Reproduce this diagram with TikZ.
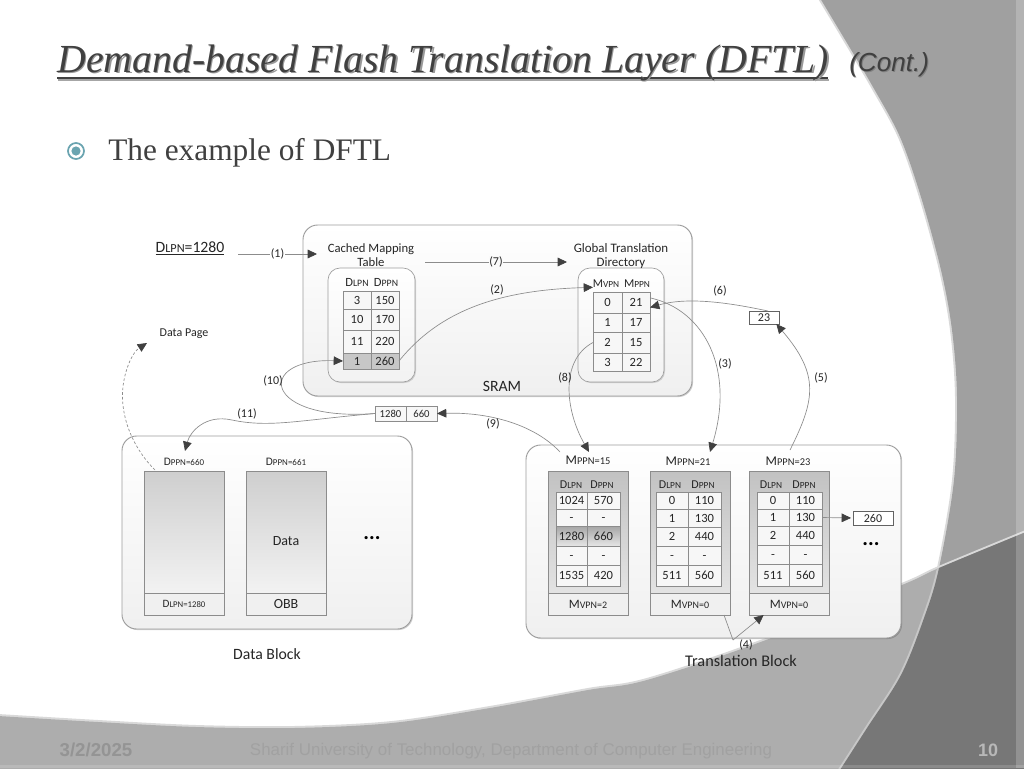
\documentclass[tikz,border=0pt]{standalone}
\usepackage{fontspec}
\setmainfont{Carlito}
\newfontfamily\seriff{Liberation Serif}
\newfontfamily\sansf{Liberation Sans}
\newfontfamily\smf[Scale=0.78]{Carlito}
\usetikzlibrary{arrows.meta,shadows,calc}
\definecolor{bandc}{HTML}{A0A0A0}
\definecolor{swoopc}{HTML}{ADADAD}
\definecolor{darkc}{HTML}{777777}
\definecolor{linec}{HTML}{8C8C8C}
\definecolor{tipc}{HTML}{404040}
\definecolor{inkc}{HTML}{262626}
\definecolor{teal}{HTML}{6AA4B0}
\newcommand\fs[1]{\fontsize{#1}{#1}\selectfont}
\newcommand\sm[2]{#1{\smf #2}}
% \rb[style]{name}{x0}{y0}{x1}{y1}{text}
\newcommand\rb[7][]{%
  \pgfmathsetmacro\rbcx{(#3+#5)/2}\pgfmathsetmacro\rbcy{(#4+#6)/2}%
  \pgfmathsetmacro\rbw{abs(#5-#3)*0.75}\pgfmathsetmacro\rbh{abs(#6-#4)*0.75}%
  \node[boxbase,minimum width=\rbw pt,minimum height=\rbh pt,#1] (#2) at (\rbcx,\rbcy) {#7};}
% \trow{prefix}{row no}{x0}{xm}{x1}{y0}{y1}{a}{b}
\newcommand\trow[9]{%
  \rb[cellb,tsize]{#1#2a}{#3}{#6}{#4}{#7}{#8}%
  \rb[cellb,tsize]{#1#2b}{#4}{#6}{#5}{#7}{#9}}
\tikzset{
  boxbase/.style={inner sep=0pt,outer sep=0pt,align=center,text=inkc},
  tsize/.style={font=\fs{9.4}},
  cellb/.style={draw=linec,line width=.5pt,fill=white!97!black,text height=1.4ex,text depth=0pt},
  container/.style={draw=linec!85,line width=.7pt,rounded corners=11pt,top color=white,bottom color=black!6,
     drop shadow={shadow xshift=.8pt,shadow yshift=-.8pt,fill=black,opacity=.18}},
  innerbox/.style={draw=linec!85,line width=.5pt,rounded corners=9pt,top color=white,bottom color=black!5,
     drop shadow={shadow xshift=.8pt,shadow yshift=-.8pt,fill=black,opacity=.15}},
  pagebox/.style={draw=linec,line width=.5pt,top color=black!19,bottom color=black!5,
     drop shadow={shadow xshift=.8pt,shadow yshift=-.8pt,fill=black,opacity=.2}},
  footbox/.style={draw=linec,line width=.5pt,fill=black!6,font=\fs{9},
     drop shadow={shadow xshift=.8pt,shadow yshift=-.8pt,fill=black,opacity=.2}},
  plainbox/.style={draw=linec!70!black,line width=.6pt,fill=white,font=\fs{9}},
  txt/.style={inner sep=0pt,text=inkc,font=\fs{9.5},align=center},
  lab/.style={inner sep=0.6pt,text=inkc,font=\fs{9}},
  conn/.style={draw=linec,line width=.5pt,-{Triangle[length=7pt,width=6.5pt,color=tipc]}},
  conndash/.style={conn,dashed,dash pattern=on 2pt off 1.5pt},
  plaincurve/.style={draw=linec,line width=.5pt},
  dots/.style={inner sep=0pt,text=black,font=\bfseries\fs{16}},
}
\def\bandedge{plot[smooth,tension=.55] coordinates {(820,-2)(847,43)(873,87)(900,137)(921,197)(941,270)(952,330)(957,397)(954,480)(939,568)(924,618)(901,675)(867,728)(840,770)}}
\def\swoopedge{plot[smooth,tension=.55] coordinates {(-2,716)(98,722)(196,727)(294,728)(392,723)(490,708)(588,690)(647,680)(766,640)(902,585)(939,568)(1026,532)}}
\begin{document}
\begin{tikzpicture}[x=0.75pt,y=-0.75pt]
\useasboundingbox (0,0) rectangle (1024,768);
% ---------- slide background
\fill[white] (0,0) rectangle (1024,768);
\draw[black!15,line width=3pt] \bandedge;
\fill[bandc] \bandedge -- (1026,770) -- (1026,-2) -- cycle;
\draw[black!15,line width=3pt] \swoopedge;
\fill[swoopc] \swoopedge -- (1026,770) -- (-2,770) -- cycle;
\begin{scope}
  \clip \swoopedge -- (1026,770) -- (-2,770) -- cycle;
  \draw[black!22,line width=3pt] \bandedge;
  \fill[darkc] \bandedge -- (1026,770) -- (1026,-2) -- cycle;
\end{scope}
\fill[white,opacity=.2] (1016,0) rectangle (1024,768);
\fill[white,opacity=.15] (0,765) rectangle (1024,768);
% ---------- title
\fill[black!35] (58,78.5) rectangle (829,81);
\fill[tipc] (57,76.5) rectangle (828,79);
\node[anchor=base west,inner sep=0pt,text=black!40,font=\seriff\itshape\fs{29.85}] (titleshadow) at (58.5,73.5) {Demand-based Flash Translation Layer (DFTL)};
\node[anchor=base west,inner sep=0pt,text=tipc,font=\seriff\itshape\fs{29.85}] (title) at (57,72) {Demand-based Flash Translation Layer (DFTL)};
\node[anchor=base west,inner sep=0pt,text=black!50,font=\sansf\itshape\fs{19.6}] (contshadow) at (850,72.5) {(Cont.)};
\node[anchor=base west,inner sep=0pt,text=tipc,font=\sansf\itshape\fs{19.6}] (cont) at (849,71) {(Cont.)};
% ---------- bullet
\draw[teal,line width=1.3pt,fill=white] (76,151) circle[radius=8];
\fill[teal] (76,151) circle[radius=4.6];
\node[anchor=base west,inner sep=0pt,text=tipc,font=\seriff\fs{23.5}] (body) at (108,160) {The example of DFTL};
% ---------- footer
\node[inner sep=0pt,text=black!42,font=\sansf\bfseries\fs{14}] (date) at (96,750) {3/2/2025};
\node[inner sep=0pt,text=black!37,font=\sansf\fs{12.7}] (foot) at (511,751) {Sharif University of Technology, Department of Computer Engineering};
\node[inner sep=0pt,text=black!28,font=\sansf\bfseries\fs{13.5}] (pg) at (988,750) {10};
% ---------- containers
\rb[container]{sram}{303}{225}{692}{396}{}
\rb[innerbox]{cmtbox}{328}{268}{415}{382}{}
\rb[innerbox]{gtdbox}{578}{268}{664}{382}{}
\rb[container]{datablk}{122}{436}{412}{629}{}
\rb[container]{tblk}{526}{445}{901}{638}{}
% ---------- SRAM
\node[txt] (cmtt) at (371,255) {Cached Mapping\\[1pt]Table};
\node[txt,font=\fs{9.7}] (gtdt) at (621,256) {Global Translation\\[1pt]Directory};
\node[txt,font=\fs{11.8}] (sramt) at (502,386.5) {SRAM};
\node[lab,font=\fs{9.4}] (hc1) at (357,282) {\sm{D}{LPN}};
\node[lab,font=\fs{9.4}] (hc2) at (386,282) {\sm{D}{PPN}};
\node[lab,font=\fs{9}] (hg1) at (606,283.5) {\sm{M}{VPN}};
\node[lab,font=\fs{9}] (hg2) at (637,283.5) {\sm{M}{PPN}};
\begin{scope}[every node/.append style={drop shadow={shadow xshift=.6pt,shadow yshift=-.6pt,fill=black,opacity=.2}}]
\trow{c}{1}{343}{371}{399}{291}{309}{3}{150}
\trow{c}{2}{343}{371}{399}{309}{330}{10}{170}
\trow{c}{3}{343}{371}{399}{330}{353}{11}{220}
\end{scope}
\rb[cellb,tsize,fill=black!22,drop shadow={shadow xshift=.6pt,shadow yshift=-.6pt,fill=black,opacity=.3}]{c4a}{343}{353}{371}{369}{1}
\rb[cellb,tsize,fill=black!22,drop shadow={shadow xshift=.6pt,shadow yshift=-.6pt,fill=black,opacity=.3}]{c4b}{371}{353}{399}{369}{260}
\trow{g}{1}{593}{622}{650}{292}{313}{0}{21}
\trow{g}{2}{593}{622}{650}{313}{332}{1}{17}
\trow{g}{3}{593}{622}{650}{332}{353}{2}{15}
\trow{g}{4}{593}{622}{650}{353}{371}{3}{22}
% ---------- free labels and small boxes
\node[txt,font=\fs{11.8}] (lpn) at (190,248.5) {\underline{\sm{D}{LPN}=1280}};
\node[txt,font=\fs{9}] (dpage) at (184,334) {Data Page};
\coordinate (cmtin) at (317,254);
\coordinate (lpnout) at (238,254);
\coordinate (c7a) at (425,262);
\coordinate (c7b) at (567,262);
\rb[plainbox]{b23}{749}{311}{779}{324}{23}
\rb[cellb,font=\fs{8}]{m1}{375}{406}{406}{421}{1280}
\rb[cellb,font=\fs{8}]{m2}{406}{406}{437}{421}{660}
% ---------- data block
\rb[pagebox]{p1}{144}{471}{224}{593}{}
\rb[pagebox]{p2}{246}{471}{326}{593}{}
\node[txt,font=\fs{10.5}] (datat) at (286,541) {Data};
\rb[footbox]{p1f}{144}{593}{224}{615}{\fs{8.4}\sm{D}{LPN=1280}}
\rb[footbox]{p2f}{246}{593}{326}{615}{\fs{10.5}OBB}
\node[lab,font=\fs{8.6}] (dp660) at (184,462) {\sm{D}{PPN=660}};
\node[lab,font=\fs{8.6}] (dp661) at (286,462) {\sm{D}{PPN=661}};
\node[dots] (ddots) at (372,538) {...};
\node[txt,font=\fs{11.8}] (dbt) at (267,654.5) {Data Block};
% ---------- translation block
\rb[pagebox,top color=black!24,bottom color=black!11]{t1}{548}{471}{628}{593}{}
\rb[pagebox,top color=black!24,bottom color=black!11]{t2}{650}{471}{730}{593}{}
\rb[pagebox,top color=black!24,bottom color=black!11]{t3}{749}{471}{829}{593}{}
\rb[footbox,font=\fs{9.6}]{t1f}{548}{593}{628}{615}{\sm{M}{VPN=2}}
\rb[footbox,font=\fs{9.6}]{t2f}{650}{593}{730}{615}{\sm{M}{VPN=0}}
\rb[footbox,font=\fs{9.6}]{t3f}{749}{593}{829}{615}{\sm{M}{VPN=0}}
\node[lab,font=\fs{10}] (m15) at (588,460.5) {\sm{M}{PPN=15}};
\node[lab,font=\fs{10}] (m21) at (688,461) {\sm{M}{PPN=21}};
\node[lab,font=\fs{10}] (m23) at (788,461.5) {\sm{M}{PPN=23}};
\node[lab,font=\fs{9}] (h11) at (571,484.5) {\sm{D}{LPN}};
\node[lab,font=\fs{9}] (h12) at (602,484.5) {\sm{D}{PPN}};
\node[lab,font=\fs{9}] (h21) at (670,484.5) {\sm{D}{LPN}};
\node[lab,font=\fs{9}] (h22) at (703,484.5) {\sm{D}{PPN}};
\node[lab,font=\fs{9}] (h31) at (771,484.5) {\sm{D}{LPN}};
\node[lab,font=\fs{9}] (h32) at (804,484.5) {\sm{D}{PPN}};
\trow{a}{1}{556}{587}{620}{492}{509}{1024}{570}
\trow{a}{2}{556}{587}{620}{509}{526}{-}{-}
\rb[cellb,tsize,top color=black!35,bottom color=black!10]{a3a}{556}{526}{587}{546}{1280}
\rb[cellb,tsize,top color=black!35,bottom color=black!10]{a3b}{587}{526}{620}{546}{660}
\trow{a}{4}{556}{587}{620}{546}{565}{-}{-}
\trow{a}{5}{556}{587}{620}{565}{586}{1535}{420}
\trow{e}{1}{656}{688}{721}{492}{509}{0}{110}
\trow{e}{2}{656}{688}{721}{509}{527}{1}{130}
\trow{e}{3}{656}{688}{721}{527}{546}{2}{440}
\trow{e}{4}{656}{688}{721}{546}{565}{-}{-}
\trow{e}{5}{656}{688}{721}{565}{586}{511}{560}
\trow{f}{1}{757}{789}{822}{492}{509}{0}{110}
\trow{f}{2}{757}{789}{822}{509}{526}{1}{130}
\trow{f}{3}{757}{789}{822}{526}{545}{2}{440}
\trow{f}{4}{757}{789}{822}{545}{564}{-}{-}
\trow{f}{5}{757}{789}{822}{564}{586}{511}{560}
\rb[plainbox]{b260}{853}{511}{893}{525}{260}
\node[dots] (tdots) at (871,544) {...};
\node[txt,font=\fs{12.2}] (tbt) at (741,661) {Translation Block};
% ---------- connectors
\draw[conn] (lpnout) -- (cmtin) node[midway,lab,fill=white] (l1) {(1)};
\draw[conn] (c7a) -- (c7b) node[pos=.5,lab,fill=black!2] (l7) {(7)};
\draw[conn] (c4b.east) .. controls (440,310) and (500,290) .. ([yshift=3.5pt]g1a.north west);
\draw[conn] ([xshift=3pt]b23.north) .. controls (735,304) and (690,296) .. ([yshift=-3.75pt]g1b.east);
\draw[conn] ([yshift=3.5pt]g1b.east) .. controls (705,310) and (735,370) .. (710,452);
\draw[conn] (790,450) .. controls (815,400) and (820,375) .. ([xshift=-2pt]b23.south east);
\draw[conn] (g3a.west) .. controls (560,360) and (565,410) .. (589,452);
\draw[conn] (560,452) .. controls (535,425) and (490,412) .. (m2.east);
\draw[conn] (m1.west) .. controls (262,422) and (255,358) .. (c4a.west);
\draw[conn] (m1.west) .. controls (300,420) and (270,428) .. (232,420) .. controls (205,414) and (190,432) .. (185,451);
\draw[conndash] (155,470) .. controls (130,445) and (118,410) .. (124,380) .. controls (127,365) and (133,352) .. (147,343);
\draw[conn,shorten >=1.5pt] (f2b.east) -- (b260.west);
\coordinate (v4) at (733,640);
\draw[plaincurve] (t2f.south east) ++(-6,0) -- (v4);
\draw[conn] (v4) -- ([xshift=11pt]t3f.south west);
% ---------- connector labels
\node[lab] (l2) at (497,290) {(2)};
\node[lab] (l3) at (725,364) {(3)};
\node[lab] (l4) at (746,645) {(4)};
\node[lab] (l5) at (821,378) {(5)};
\node[lab] (l6) at (720,291) {(6)};
\node[lab] (l8) at (565,378) {(8)};
\node[lab] (l9) at (493,424) {(9)};
\node[lab] (l10) at (273,381) {(10)};
\node[lab] (l11) at (247,414) {(11)};
\end{tikzpicture}
\end{document}
